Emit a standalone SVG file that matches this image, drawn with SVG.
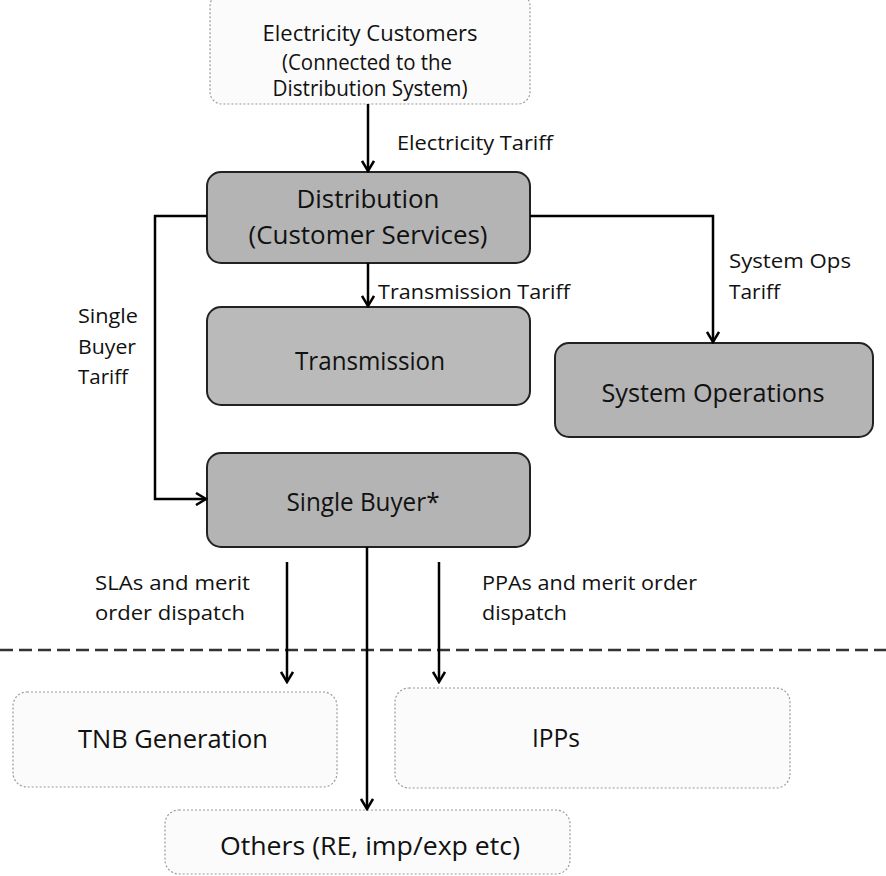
<svg xmlns="http://www.w3.org/2000/svg" width="886" height="876" viewBox="0 0 886 876">
<style>
  text { font-family: "Open Sans", Lato, "Liberation Sans", sans-serif; fill: #111; }
  .big { font-size: 25px; text-anchor: middle; }
  .mid { font-size: 21px; text-anchor: middle; }
  .lbl { font-size: 20px; }
  .dark { fill: #b4b4b4; stroke: #222; stroke-width: 2; }
  .light { fill: #fbfbfb; stroke: #9a9a9a; stroke-width: 1.2; stroke-dasharray: 2 2; }
  .conn { fill: none; stroke: #000; stroke-width: 2.5; }
</style>
<defs>
  <marker id="arr" viewBox="0 0 14 14" refX="12" refY="7" markerWidth="14" markerHeight="14" markerUnits="userSpaceOnUse" orient="auto">
    <path d="M2,1 L12,7 L2,13" fill="none" stroke="#000" stroke-width="2.5"/>
  </marker>
</defs>
<rect width="886" height="876" fill="#fff"/>

<g id="customers">
  <rect class="light" x="210" y="-6" width="320" height="110" rx="12"/>
  <text class="mid" x="370" y="41" textLength="215" lengthAdjust="spacingAndGlyphs">Electricity Customers</text>
  <text class="mid" x="367" y="70" textLength="170" lengthAdjust="spacingAndGlyphs">(Connected to the</text>
  <text class="mid" x="370" y="96" textLength="195" lengthAdjust="spacingAndGlyphs">Distribution System)</text>
</g>

<g id="distribution">
  <rect class="dark" x="207" y="172" width="323" height="91" rx="14"/>
  <text class="big" x="368" y="208" textLength="143" lengthAdjust="spacingAndGlyphs">Distribution</text>
  <text class="big" x="368" y="244" textLength="239" lengthAdjust="spacingAndGlyphs">(Customer Services)</text>
</g>

<g id="transmission">
  <rect class="dark" x="207" y="307" width="323" height="98" rx="14" style="fill:#bababa"/>
  <text class="big" x="370" y="370" textLength="150" lengthAdjust="spacingAndGlyphs">Transmission</text>
</g>

<g id="system-operations">
  <rect class="dark" x="555" y="343" width="318" height="94" rx="14"/>
  <text class="big" x="713" y="402" textLength="223" lengthAdjust="spacingAndGlyphs">System Operations</text>
</g>

<g id="single-buyer">
  <rect class="dark" x="207" y="453" width="323" height="94" rx="14"/>
  <text class="big" x="363" y="511" textLength="153" lengthAdjust="spacingAndGlyphs">Single Buyer*</text>
</g>

<g id="tnb-generation">
  <rect class="light" x="13" y="692" width="324" height="95" rx="14"/>
  <text class="big" x="173" y="748" textLength="190" lengthAdjust="spacingAndGlyphs">TNB Generation</text>
</g>

<g id="ipps">
  <rect class="light" x="395" y="688" width="395" height="100" rx="14"/>
  <text class="big" x="556" y="747" textLength="48" lengthAdjust="spacingAndGlyphs">IPPs</text>
</g>

<g id="others">
  <rect class="light" x="165" y="810" width="405" height="64" rx="14"/>
  <text class="big" x="370" y="855" textLength="300" lengthAdjust="spacingAndGlyphs">Others (RE, imp/exp etc)</text>
</g>

<line x1="0" y1="650" x2="886" y2="650" stroke="#333" stroke-width="2.5" stroke-dasharray="13 6"/>

<g id="connectors">
  <path class="conn" d="M368,104 V171" marker-end="url(#arr)"/>
  <path class="conn" d="M368,263 V306" marker-end="url(#arr)"/>
  <path class="conn" d="M530,216 H713 V342" marker-end="url(#arr)"/>
  <path class="conn" d="M207,216 H155 V499 H206" marker-end="url(#arr)"/>
  <path class="conn" d="M287,562 V682" marker-end="url(#arr)"/>
  <path class="conn" d="M439,562 V682" marker-end="url(#arr)"/>
  <path class="conn" d="M367,547 V809" marker-end="url(#arr)"/>
</g>

<g id="labels">
  <text class="lbl" x="397" y="150" textLength="156" lengthAdjust="spacingAndGlyphs">Electricity Tariff</text>
  <text class="lbl" x="378" y="299" textLength="192" lengthAdjust="spacingAndGlyphs">Transmission Tariff</text>
  <text class="lbl" x="729" y="268" textLength="122" lengthAdjust="spacingAndGlyphs">System Ops</text>
  <text class="lbl" x="729" y="299" textLength="51" lengthAdjust="spacingAndGlyphs">Tariff</text>
  <text class="lbl" x="78" y="323" textLength="60" lengthAdjust="spacingAndGlyphs">Single</text>
  <text class="lbl" x="78" y="354" textLength="58" lengthAdjust="spacingAndGlyphs">Buyer</text>
  <text class="lbl" x="78" y="384" textLength="50" lengthAdjust="spacingAndGlyphs">Tariff</text>
  <text class="lbl" x="95" y="590" textLength="155" lengthAdjust="spacingAndGlyphs">SLAs and merit</text>
  <text class="lbl" x="95" y="620" textLength="150" lengthAdjust="spacingAndGlyphs">order dispatch</text>
  <text class="lbl" x="482" y="590" textLength="215" lengthAdjust="spacingAndGlyphs">PPAs and merit order</text>
  <text class="lbl" x="482" y="620" textLength="85" lengthAdjust="spacingAndGlyphs">dispatch</text>
</g>
</svg>
